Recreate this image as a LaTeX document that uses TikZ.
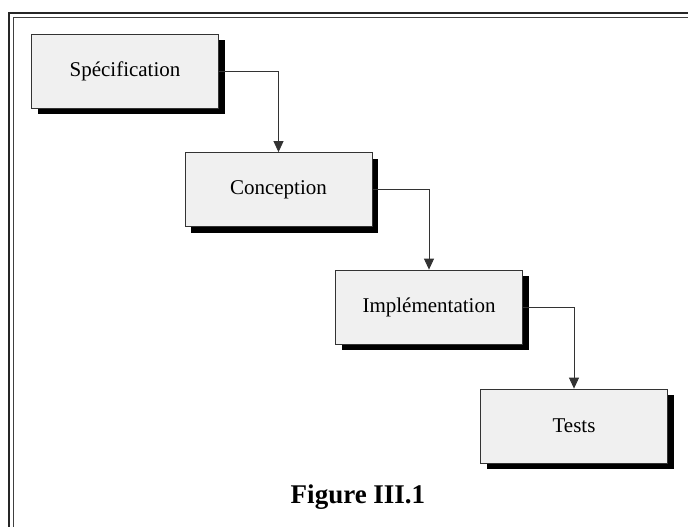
\documentclass[tikz,border=0pt]{standalone}
\usepackage{fontspec}
\setmainfont{Liberation Serif}
\usetikzlibrary{shadows,arrows.meta}

\tikzset{
  etape/.style={draw=black!80, line width=0.8pt, fill=black!6, minimum width=187pt, minimum height=74pt,
    font=\fontsize{21}{25}\selectfont, inner sep=0pt,
    drop shadow={shadow xshift=6pt, shadow yshift=-6pt, fill=black, opacity=1}},
  fleche/.style={-{Triangle[length=11pt,width=10pt]}, line width=0.8pt, draw=black!80}
}

\begin{document}
\begin{tikzpicture}[x=1pt,y=-1pt]
\useasboundingbox (0,0) rectangle (688,527);
\fill[white] (0,0) rectangle (688,527);

% cadre
\draw[line width=2pt, black!85] (9,527) -- (9,13) -- (688,13);
\draw[line width=1.2pt, black!75] (13.5,527) -- (13.5,17.5) -- (688,17.5);

% les etapes
\node[etape] (spec) at (125,71) {Spécification};
\node[etape] (conc) at (278.5,189.5) {Conception};
\node[etape] (impl) at (429,307) {Implémentation};
\node[etape] (tests) at (574,426) {Tests};

\draw[fleche] (spec.east) -| (conc.north);
\draw[fleche] (conc.east) -| (impl.north);
\draw[fleche] (impl.east) -| (tests.north);

\node[font=\bfseries\fontsize{27}{32}\selectfont] (titre) at (358,497) {Figure III.1};
\end{tikzpicture}
\end{document}
